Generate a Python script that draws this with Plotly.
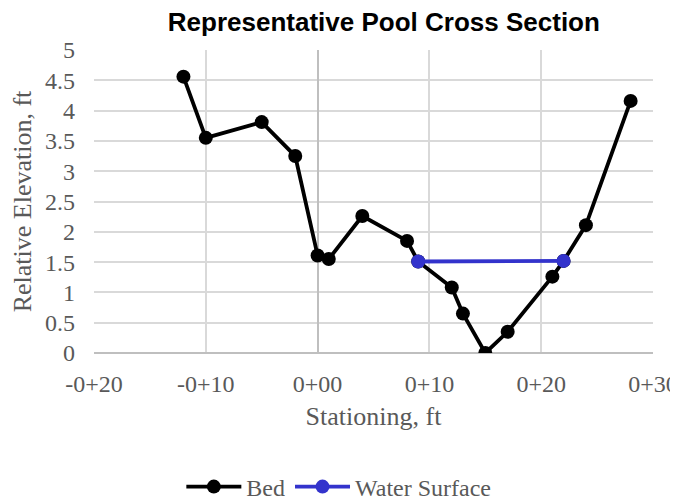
import plotly.graph_objects as go

bed_station = [-12, -10, -5, -2, 0, 1, 4, 8, 9, 12, 13, 15, 17, 21, 22, 24, 28]
bed_elev = [4.56, 3.55, 3.81, 3.25, 1.61, 1.55, 2.26, 1.85, 1.51, 1.08, 0.65, 0.0, 0.35, 1.26, 1.52, 2.11, 4.16]

ws_station = [9, 22]
ws_elev = [1.51, 1.52]

x_tick_vals = [-20, -10, 0, 10, 20, 30]
x_tick_text = ["-0+20", "-0+10", "0+00", "0+10", "0+20", "0+30"]
y_tick_vals = [0, 0.5, 1, 1.5, 2, 2.5, 3, 3.5, 4, 4.5, 5]
y_tick_text = ["0", "0.5", "1", "1.5", "2", "2.5", "3", "3.5", "4", "4.5", "5"]

serif = "Liberation Serif, Times New Roman, serif"
grey = "#595959"

fig = go.Figure()
fig.add_trace(go.Scatter(
    x=bed_station, y=bed_elev, name="Bed", mode="lines+markers",
    line=dict(color="#000000", width=3.8),
    marker=dict(color="#000000", size=14),
))
fig.add_trace(go.Scatter(
    x=ws_station, y=ws_elev, name="Water Surface", mode="lines+markers",
    line=dict(color="#3333cc", width=3.8),
    marker=dict(color="#3333cc", size=14),
))

# page body has an 8px margin, so the figure is 670x494 placed at (8, 8)
fig.update_layout(
    width=670, height=494,
    margin=dict(l=86, r=25, t=42, b=149),
    paper_bgcolor="white", plot_bgcolor="white",
    title=dict(
        text="<b>Representative Pool Cross Section</b>",
        font=dict(family="Liberation Sans, Arial, sans-serif", size=26, color="#000000"),
        x=0.561, xanchor="center", y=0.9717, yanchor="middle",
    ),
    showlegend=True,
    legend=dict(
        orientation="h", x=0.438, xanchor="center",
        yref="container", y=0.0304, yanchor="middle",
        font=dict(family=serif, size=24, color=grey),
        itemwidth=55,
    ),
    xaxis=dict(
        range=[-20, 30], tickmode="array", tickvals=x_tick_vals, ticktext=x_tick_text,
        showgrid=True, gridcolor="#d9d9d9", gridwidth=1.5,
        zeroline=True, zerolinecolor="#bfbfbf", zerolinewidth=1.5,
        showline=False, ticks="", ticklabelstandoff=14, automargin=False,
        tickfont=dict(family=serif, size=24, color=grey),
        title=dict(text="Stationing, ft", font=dict(family=serif, size=26, color=grey), standoff=10),
    ),
    yaxis=dict(
        range=[0, 5], tickmode="array", tickvals=y_tick_vals, ticktext=y_tick_text,
        showgrid=True, gridcolor="#d9d9d9", gridwidth=1.5,
        zeroline=True, zerolinecolor="#bfbfbf", zerolinewidth=1.5,
        showline=False, ticks="", ticklabelstandoff=18, automargin=False,
        tickfont=dict(family=serif, size=24, color=grey),
        title=dict(text="Relative Elevation, ft", font=dict(family=serif, size=26, color=grey), standoff=6),
    ),
)

fig.write_html("out.html")
